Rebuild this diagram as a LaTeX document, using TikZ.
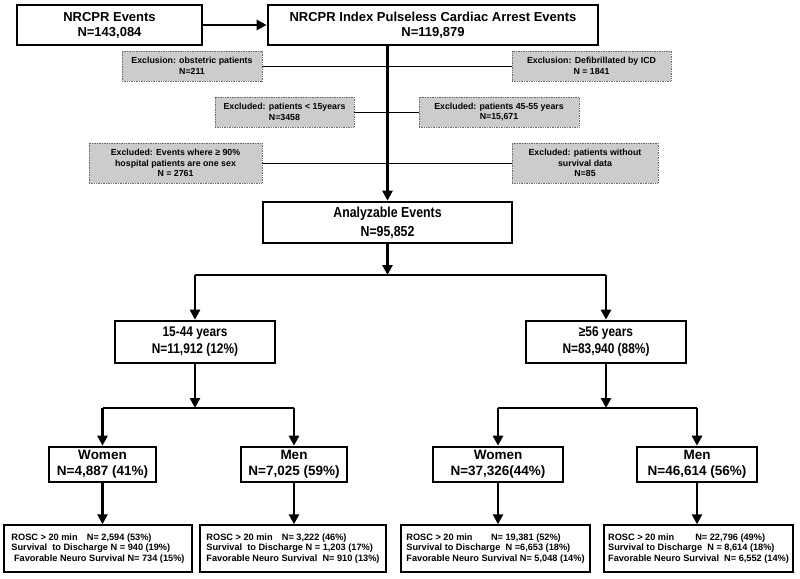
\documentclass[tikz,border=0pt]{standalone}
\usepackage{fontspec}
\setmainfont{Liberation Sans}
\newfontfamily\narrowfont[FakeStretch=0.85]{Liberation Sans}
\usepackage{tikz}
\usetikzlibrary{positioning, calc, arrows.meta}
\definecolor{ExclFill}{rgb}{0.80,0.80,0.80}
\definecolor{ExclEdge}{rgb}{0.42,0.42,0.42}
\tikzset{
    box/.style={
        rectangle,
        draw=black,
        fill=white,
        line width=2.6pt,
        align=center,
        inner sep=0pt
    },
    topbox/.style={box, minimum height=40pt, font=\fontsize{13}{15}\selectfont\bfseries},
    sumbox/.style={box, minimum height=41pt, font=\narrowfont\fontsize{14.5}{19}\selectfont\bfseries},
    agebox/.style={box, minimum width=160pt, minimum height=42pt, font=\narrowfont\fontsize{14}{17}\selectfont\bfseries},
    sexbox/.style={box, minimum height=35pt, font=\fontsize{13.5}{15.5}\selectfont\bfseries},
    excl/.style={
        rectangle,
        draw=ExclEdge,
        densely dotted,
        fill=ExclFill,
        line width=0.7pt,
        align=center,
        inner sep=0pt,
        font=\fontsize{8.8}{10.5}\selectfont\bfseries
    },
    result/.style={
        rectangle,
        draw=black,
        line width=1.4pt,
        align=left,
        minimum height=47pt,
        inner sep=0pt,
        font=\fontsize{9.2}{10.8}\selectfont\bfseries
    },
    arr/.style={-{Triangle[length=10pt, width=10pt]}, line width=2.9pt},
    bar/.style={line width=2.9pt},
    cut/.style={line width=0.7pt}
}

\begin{document}
\begin{tikzpicture}[x=1pt, y=-1pt]
\useasboundingbox (0,0) rectangle (800,578);

% Top row
\node[topbox, minimum width=185pt] (events) at (109.5,25) {NRCPR Events\\N=143,084};
\node[topbox, minimum width=330pt] (index) at (433,25) {NRCPR Index Pulseless Cardiac Arrest Events\\N=119,879};
\draw[arr] (events) -- (index);

% Exclusions
\node[excl, minimum width=140pt, minimum height=30pt] (ex_obst) at (192,66) {Exclusion: obstetric patients\\N=211};
\node[excl, minimum width=159pt, minimum height=30pt] (ex_icd) at (591.5,66) {Exclusion: Defibrillated by ICD\\N = 1841};
\node[excl, minimum width=139pt, minimum height=30pt] (ex_young) at (284.5,112) {Excluded: patients < 15years\\N=3458};
\node[excl, minimum width=160pt, minimum height=30pt] (ex_mid) at (499,112) {Excluded: patients 45-55 years\\N=15,671};
\node[excl, minimum width=173pt, minimum height=40pt] (ex_sex) at (175.5,163) {Excluded: Events where ≥ 90\%\\hospital patients are one sex\\N = 2761};
\node[excl, minimum width=146pt, minimum height=40pt] (ex_data) at (585,163) {Excluded: patients without\\survival data\\N=85};
\draw[cut] (ex_obst) -- (ex_icd);
\draw[cut] (ex_young) -- (ex_mid);
\draw[cut] (ex_sex) -- (ex_data);

% Analyzable
\node[sumbox, minimum width=249pt] (analyz) at (387.5,222.5) {Analyzable Events\\N=95,852};
\draw[arr] (analyz.north |- index.south) -- (analyz.north);

% Age split
\coordinate (split_age) at (387.5,275);
\node[agebox] (young) at (195,342) {15-44 years\\N=11,912 (12\%)};
\node[agebox] (old) at (606,342) {≥56 years\\N=83,940 (88\%)};
\draw[arr] (analyz.south) -- (split_age);
\draw[bar] (young |- split_age) -- (old |- split_age);
\draw[arr] (young |- split_age) -- (young.north);
\draw[arr] (old |- split_age) -- (old.north);

% Sex split
\coordinate (split_young) at (195,408);
\coordinate (split_old) at (606,408);
\node[sexbox, minimum width=107pt] (young_w) at (102.5,464.5) {Women\\N=4,887 (41\%)};
\node[sexbox, minimum width=106pt] (young_m) at (294,464.5) {Men\\N=7,025 (59\%)};
\node[sexbox, minimum width=130pt] (old_w) at (498,464.5) {Women\\N=37,326(44\%)};
\node[sexbox, minimum width=120pt] (old_m) at (697,464.5) {Men\\N=46,614 (56\%)};
\draw[arr] (young.south) -- (split_young);
\draw[arr] (old.south) -- (split_old);
\draw[bar] (young_w |- split_young) -- (young_m |- split_young);
\draw[bar] (old_w |- split_old) -- (old_m |- split_old);
\foreach \n in {young_w, young_m, old_w, old_m}
    \draw[arr] (\n |- split_young) -- (\n.north);

% Outcomes
\node[result, minimum width=188pt] (res_yw) at (98,548.5) {ROSC > 20 min\quad N= 2,594 (53\%)\\Survival\ \ to Discharge N = 940 (19\%)\\\ Favorable Neuro Survival N= 734 (15\%)};
\node[result, minimum width=186pt] (res_ym) at (293,548.5) {ROSC > 20 min\quad N= 3,222 (46\%)\\Survival\ \ to Discharge N = 1,203 (17\%)\\Favorable Neuro Survival\ \ N= 910 (13\%)};
\node[result, minimum width=189pt] (res_ow) at (495.5,548.5) {ROSC > 20 min\qquad N= 19,381 (52\%)\\Survival to Discharge\ \ N =6,653 (18\%)\\Favorable Neuro Survival N= 5,048 (14\%)};
\node[result, minimum width=189pt] (res_om) at (698.5,548.5) {ROSC > 20 min\qquad\ N= 22,796 (49\%)\\Survival to Discharge\ \ N = 8,614 (18\%)\\Favorable Neuro Survival\ \ N= 6,552 (14\%)};
\draw[arr] (young_w.south) -- (young_w.south |- res_yw.north);
\draw[arr] (young_m.south) -- (young_m.south |- res_ym.north);
\draw[arr] (old_w.south) -- (old_w.south |- res_ow.north);
\draw[arr] (old_m.south) -- (old_m.south |- res_om.north);

\end{tikzpicture}
\end{document}
